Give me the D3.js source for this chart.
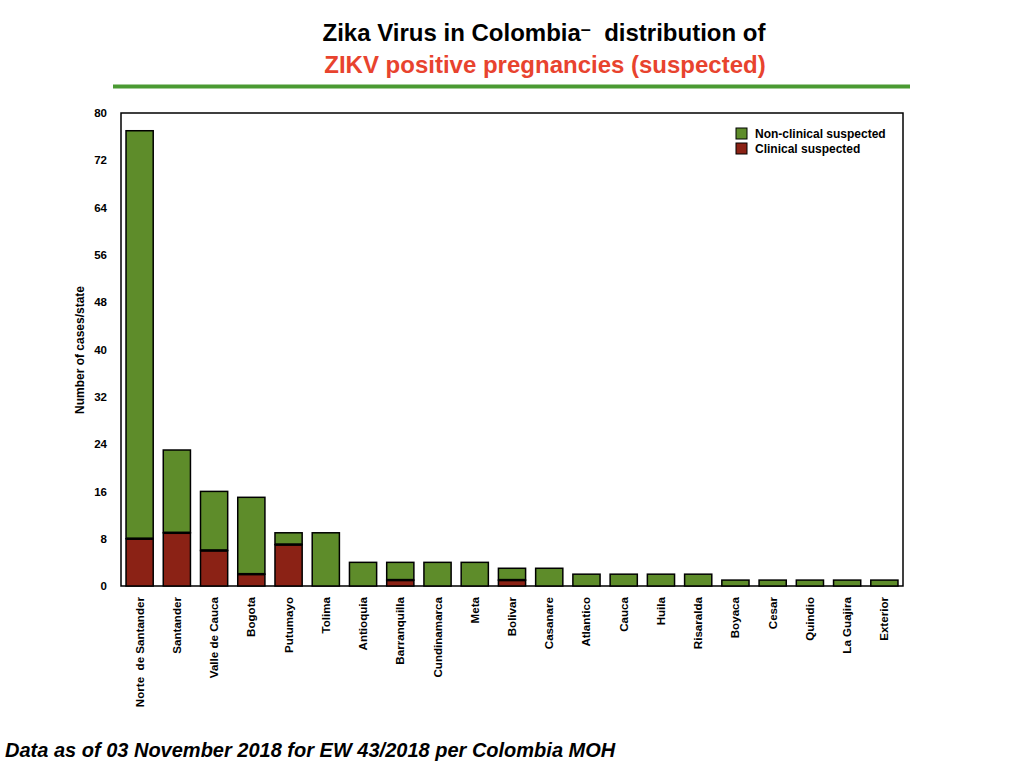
<!DOCTYPE html>
<html><head><meta charset="utf-8">
<script src="https://cdn.jsdelivr.net/npm/d3@7"></script>
<style>body{margin:0;background:#fff;}svg{display:block;font-family:"Liberation Sans",Arial,sans-serif;}</style>
</head><body>
<svg id="c" width="1024" height="768"></svg>
<script>
const categories = ["Norte  de Santander","Santander","Valle de Cauca","Bogota","Putumayo","Tolima","Antioquia","Barranquilla","Cundinamarca","Meta","Bolivar","Casanare","Atlantico","Cauca","Huila","Risaralda","Boyaca","Cesar","Quindio","La Guajira","Exterior"];
const clinical =    [8,9,6,2,7,0,0,1,0,0,1,0,0,0,0,0,0,0,0,0,0];
const nonClinical = [69,14,10,13,2,9,4,3,4,4,2,3,2,2,2,2,1,1,1,1,1];
const yTicks = [0,8,16,24,32,40,48,56,64,72,80];
const seriesNames = ["Non-clinical suspected","Clinical suspected"];
const colors = {green:"#5E8C2A", red:"#8B2215"};

const svg = d3.select("#c");
const L=121,R=903,T=113,B=586;
const x = d3.scaleBand().domain(categories).range([L,R]).paddingInner(0.27).paddingOuter(0.135);
const y = d3.scaleLinear().domain([0,80]).range([B,T]);

// title
const t1 = svg.append("text").attr("x",544).attr("y",41).attr("text-anchor","middle")
  .attr("font-size",24).attr("font-weight","bold").attr("fill","#000").style("white-space","pre");
t1.append("tspan").text("Zika Virus in Colombia");
t1.append("tspan").attr("font-size",18).attr("dy",-6).text("\u2013");
t1.append("tspan").attr("dy",6).text("  distribution of");
svg.append("text").attr("x",545).attr("y",73).attr("text-anchor","middle")
  .attr("font-size",24).attr("font-weight","bold").attr("fill","#E8432E")
  .text("ZIKV positive pregnancies (suspected)");
svg.append("line").attr("x1",113).attr("x2",910).attr("y1",86.5).attr("y2",86.5)
  .attr("stroke","#4A9A32").attr("stroke-width",4);

// frame
svg.append("rect").attr("x",L).attr("y",T).attr("width",R-L).attr("height",B-T)
  .attr("fill","none").attr("stroke","#000").attr("stroke-width",1.5);

// y axis
const ya = svg.append("g").attr("transform",`translate(${L},0)`)
  .call(d3.axisLeft(y).tickValues(yTicks).tickSize(0).tickPadding(14));
ya.select(".domain").remove();
ya.selectAll("text").attr("font-size",11.5).attr("font-weight","bold").attr("font-family","Liberation Sans, Arial, sans-serif").attr("fill","#000");

// bars
const g = svg.append("g");
categories.forEach((c,i)=>{
  const c0 = clinical[i], n0 = nonClinical[i];
  g.append("rect").attr("x",x(c)).attr("width",x.bandwidth())
    .attr("y",y(c0+n0)).attr("height",y(c0)-y(c0+n0))
    .attr("fill",colors.green).attr("stroke","#000").attr("stroke-width",1.5);
  g.append("rect").attr("x",x(c)).attr("width",x.bandwidth())
    .attr("y",y(c0)).attr("height",y(0)-y(c0))
    .attr("fill",colors.red).attr("stroke","#000").attr("stroke-width",1.5);
  if(c0>0){
    g.append("line").attr("x1",x(c)).attr("x2",x(c)+x.bandwidth()).attr("y1",y(c0)).attr("y2",y(c0))
      .attr("stroke","#000").attr("stroke-width",2.5);
  }
});

// x axis labels
const xa = svg.append("g").attr("transform",`translate(0,${B})`)
  .call(d3.axisBottom(x).tickSize(0).tickPadding(0));
xa.select(".domain").remove();
xa.selectAll("text").attr("font-size",11.6).attr("font-weight","bold").attr("fill","#000")
  .attr("font-family","Liberation Sans, Arial, sans-serif")
  .style("white-space","pre")
  .attr("text-anchor","end").attr("dy",null)
  .attr("transform","translate(4,11) rotate(-90)");

// y label
svg.append("text").attr("transform","translate(84,350) rotate(-90)").attr("text-anchor","middle")
  .attr("font-size",12).attr("font-weight","bold").text("Number of cases/state");

// legend
const lg = svg.append("g");
[[seriesNames[0],colors.green],[seriesNames[1],colors.red]].forEach((d,i)=>{
  lg.append("rect").attr("x",736).attr("y",128+i*15).attr("width",11).attr("height",11)
    .attr("fill",d[1]).attr("stroke","#000").attr("stroke-width",1);
  lg.append("text").attr("x",755).attr("y",138+i*15).attr("font-size",12).attr("font-weight","bold").text(d[0]);
});

// footer
svg.append("text").attr("x",5).attr("y",757).attr("font-size",20).attr("font-weight","bold")
  .attr("font-style","italic").text("Data as of 03 November 2018 for EW 43/2018 per Colombia MOH");
</script>
</body></html>
